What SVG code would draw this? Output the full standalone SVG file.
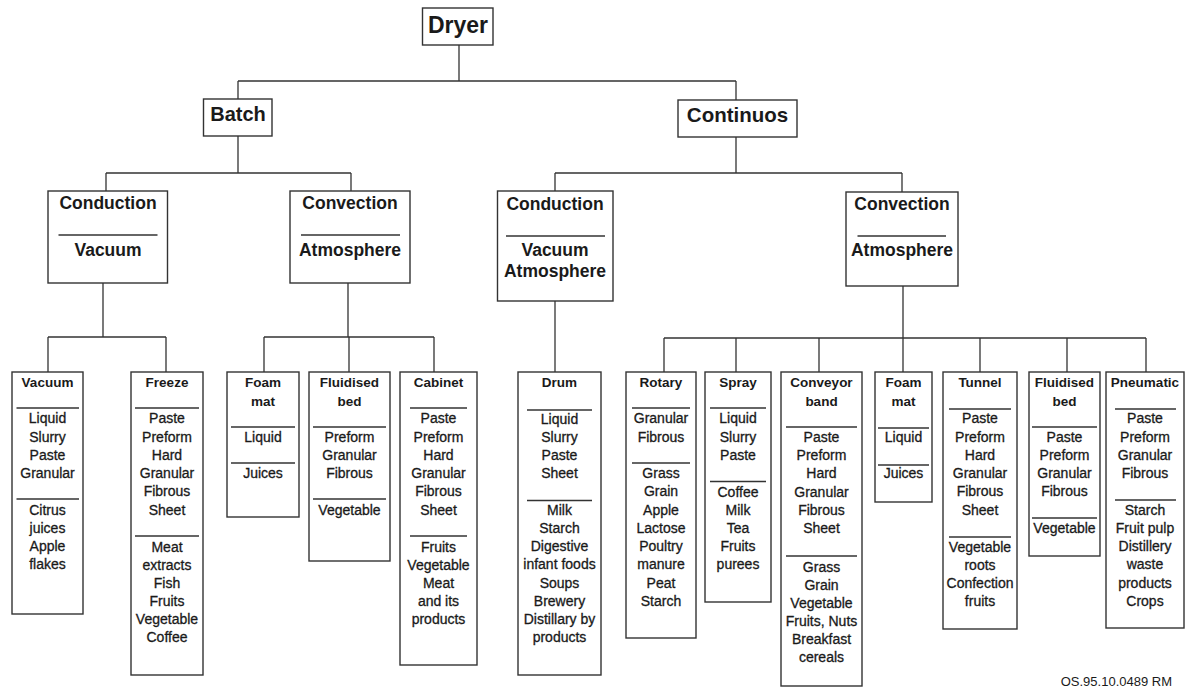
<svg xmlns="http://www.w3.org/2000/svg" width="1186" height="690" viewBox="0 0 1186 690">
<style>
rect{fill:#fff;stroke:#333;stroke-width:1.4}
.sep{stroke:#333;stroke-width:1.5;fill:none}
#connectors path{stroke:#333;stroke-width:1.3;fill:none}
text{font-family:"Liberation Sans",Arial,sans-serif;fill:#1a1a1a;text-anchor:middle}
.top{font-weight:bold;font-size:17.5px}
.t{font-weight:bold;font-size:13.5px}
.i{font-size:14px;stroke:#1a1a1a;stroke-width:0.3}
.note{font-size:13px;text-anchor:end}
</style>
<rect x="0" y="0" width="1186" height="690" style="fill:#fff;stroke:none"/>
<g id="connectors">
<path d="M459 45V81M238 81H736M238 81V99M736 81V100"/>
<path d="M238 136V173M106 173H351M106 173V191M351 173V191"/>
<path d="M736 137V173M555 173H902M555 173V191M902 173V192"/>
<path d="M103 283V337M48 337H166M48 337V372M166 337V372"/>
<path d="M348 283V337M264 337H434M264 337V372M349 337V372M434 337V372"/>
<path d="M555 301V372"/>
<path d="M903 286V338M664 338H1146M664 338V372M736 338V372M819 338V372M903 338V372M980 338V372M1067 338V372M1146 338V372"/>
</g>
<g id="dryer"><rect x="422.5" y="8" width="70.5" height="37"/><text x="458" y="33" style="font-weight:bold;font-size:23px">Dryer</text></g>
<g id="batch"><rect x="203.5" y="99" width="68.5" height="37"/><text x="238" y="121" style="font-weight:bold;font-size:20px">Batch</text></g>
<g id="continuos"><rect x="678" y="100" width="119" height="37"/><text x="737.5" y="122" style="font-weight:bold;font-size:20.5px">Continuos</text></g>
<g id="batch-conduction"><rect x="48" y="191" width="119.5" height="92"/><text class="top" x="108" y="209">Conduction</text><path class="sep" d="M58.5 235H157.5"/><text class="top" x="108" y="256">Vacuum</text></g>
<g id="batch-convection"><rect x="290" y="191" width="120" height="92"/><text class="top" x="350" y="209">Convection</text><path class="sep" d="M301 235H400"/><text class="top" x="350" y="256">Atmosphere</text></g>
<g id="cont-conduction"><rect x="497.5" y="191" width="115.5" height="110"/><text class="top" x="555" y="210">Conduction</text><path class="sep" d="M506 236H605"/><text class="top" x="555" y="256">Vacuum</text><text class="top" x="555" y="277">Atmosphere</text></g>
<g id="cont-convection"><rect x="846" y="192" width="112" height="94"/><text class="top" x="902" y="210">Convection</text><path class="sep" d="M857.5 236H946"/><text class="top" x="902" y="256">Atmosphere</text></g>

<g id="vacuum"><rect x="12" y="372" width="71" height="242"/><text class="t" x="47.5" y="387">Vacuum</text><path class="sep" d="M16.5 408H79"/>
<text class="i" x="47.5" y="423">Liquid</text><text class="i" x="47.5" y="441.5">Slurry</text><text class="i" x="47.5" y="460">Paste</text><text class="i" x="47.5" y="478">Granular</text>
<path class="sep" d="M16.5 499H79"/>
<text class="i" x="47.5" y="515">Citrus</text><text class="i" x="47.5" y="533">juices</text><text class="i" x="47.5" y="551">Apple</text><text class="i" x="47.5" y="569">flakes</text></g>

<g id="freeze"><rect x="131" y="372" width="72" height="303"/><text class="t" x="167" y="387">Freeze</text><path class="sep" d="M135 408H199"/>
<text class="i" x="167" y="423">Paste</text><text class="i" x="167" y="441.5">Preform</text><text class="i" x="167" y="460">Hard</text><text class="i" x="167" y="478">Granular</text><text class="i" x="167" y="496">Fibrous</text><text class="i" x="167" y="514.5">Sheet</text>
<path class="sep" d="M135 536H199"/>
<text class="i" x="167" y="551.5">Meat</text><text class="i" x="167" y="569.5">extracts</text><text class="i" x="167" y="588">Fish</text><text class="i" x="167" y="606">Fruits</text><text class="i" x="167" y="624">Vegetable</text><text class="i" x="167" y="642">Coffee</text></g>

<g id="foam-mat-batch"><rect x="227" y="372" width="72" height="145"/><text class="t" x="263" y="387">Foam</text><text class="t" x="263" y="405.5">mat</text><path class="sep" d="M231 427H295"/>
<text class="i" x="263" y="442">Liquid</text><path class="sep" d="M231 463H295"/><text class="i" x="263" y="478">Juices</text></g>

<g id="fluidised-bed-batch"><rect x="309" y="372" width="81" height="189"/><text class="t" x="349.5" y="387">Fluidised</text><text class="t" x="349.5" y="405.5">bed</text><path class="sep" d="M313 427H386"/>
<text class="i" x="349.5" y="442">Preform</text><text class="i" x="349.5" y="460">Granular</text><text class="i" x="349.5" y="478">Fibrous</text>
<path class="sep" d="M313 499H386"/><text class="i" x="349.5" y="515">Vegetable</text></g>

<g id="cabinet"><rect x="400" y="372" width="77" height="293"/><text class="t" x="438.5" y="387">Cabinet</text><path class="sep" d="M410 408H467"/>
<text class="i" x="438.5" y="423">Paste</text><text class="i" x="438.5" y="441.5">Preform</text><text class="i" x="438.5" y="460">Hard</text><text class="i" x="438.5" y="478">Granular</text><text class="i" x="438.5" y="496">Fibrous</text><text class="i" x="438.5" y="514.5">Sheet</text>
<path class="sep" d="M410 536H467"/>
<text class="i" x="438.5" y="551.5">Fruits</text><text class="i" x="438.5" y="569.5">Vegetable</text><text class="i" x="438.5" y="588">Meat</text><text class="i" x="438.5" y="606">and its</text><text class="i" x="438.5" y="624">products</text></g>

<g id="drum"><rect x="518" y="372" width="83" height="303"/><text class="t" x="559.5" y="387">Drum</text><path class="sep" d="M527 410H592"/>
<text class="i" x="559.5" y="424">Liquid</text><text class="i" x="559.5" y="442">Slurry</text><text class="i" x="559.5" y="460">Paste</text><text class="i" x="559.5" y="478">Sheet</text>
<path class="sep" d="M527 500.5H592"/>
<text class="i" x="559.5" y="515">Milk</text><text class="i" x="559.5" y="533">Starch</text><text class="i" x="559.5" y="551">Digestive</text><text class="i" x="559.5" y="569">infant foods</text><text class="i" x="559.5" y="587.5">Soups</text><text class="i" x="559.5" y="605.5">Brewery</text><text class="i" x="559.5" y="624">Distillary by</text><text class="i" x="559.5" y="642">products</text></g>

<g id="rotary"><rect x="626" y="372" width="70" height="266"/><text class="t" x="661" y="387">Rotary</text><path class="sep" d="M632 408H690"/>
<text class="i" x="661" y="423">Granular</text><text class="i" x="661" y="442">Fibrous</text>
<path class="sep" d="M632 463H690"/>
<text class="i" x="661" y="478">Grass</text><text class="i" x="661" y="496">Grain</text><text class="i" x="661" y="514.5">Apple</text><text class="i" x="661" y="533">Lactose</text><text class="i" x="661" y="551">Poultry</text><text class="i" x="661" y="569">manure</text><text class="i" x="661" y="587.5">Peat</text><text class="i" x="661" y="606">Starch</text></g>

<g id="spray"><rect x="705" y="372" width="66" height="230"/><text class="t" x="738" y="387">Spray</text><path class="sep" d="M710 408H766"/>
<text class="i" x="738" y="423">Liquid</text><text class="i" x="738" y="442">Slurry</text><text class="i" x="738" y="460">Paste</text>
<path class="sep" d="M710 481.5H766"/>
<text class="i" x="738" y="497">Coffee</text><text class="i" x="738" y="515">Milk</text><text class="i" x="738" y="533">Tea</text><text class="i" x="738" y="551">Fruits</text><text class="i" x="738" y="569">purees</text></g>

<g id="conveyor-band"><rect x="781" y="372" width="81" height="314"/><text class="t" x="821.5" y="387">Conveyor</text><text class="t" x="821.5" y="405.5">band</text><path class="sep" d="M786 427H857"/>
<text class="i" x="821.5" y="442">Paste</text><text class="i" x="821.5" y="460">Preform</text><text class="i" x="821.5" y="478">Hard</text><text class="i" x="821.5" y="496.5">Granular</text><text class="i" x="821.5" y="515">Fibrous</text><text class="i" x="821.5" y="533">Sheet</text>
<path class="sep" d="M786 556H857"/>
<text class="i" x="821.5" y="572">Grass</text><text class="i" x="821.5" y="590">Grain</text><text class="i" x="821.5" y="608">Vegetable</text><text class="i" x="821.5" y="626">Fruits, Nuts</text><text class="i" x="821.5" y="644">Breakfast</text><text class="i" x="821.5" y="662">cereals</text></g>

<g id="foam-mat-cont"><rect x="875" y="372" width="57" height="130"/><text class="t" x="903.5" y="387">Foam</text><text class="t" x="903.5" y="405.5">mat</text><path class="sep" d="M878 428H929"/>
<text class="i" x="903.5" y="442">Liquid</text><path class="sep" d="M878 465H929"/><text class="i" x="903.5" y="478">Juices</text></g>

<g id="tunnel"><rect x="943" y="372" width="74" height="257"/><text class="t" x="980" y="387">Tunnel</text><path class="sep" d="M949 409H1011"/>
<text class="i" x="980" y="423">Paste</text><text class="i" x="980" y="441.5">Preform</text><text class="i" x="980" y="460">Hard</text><text class="i" x="980" y="478">Granular</text><text class="i" x="980" y="496">Fibrous</text><text class="i" x="980" y="514.5">Sheet</text>
<path class="sep" d="M949 537H1011"/>
<text class="i" x="980" y="551.5">Vegetable</text><text class="i" x="980" y="569.5">roots</text><text class="i" x="980" y="588">Confection</text><text class="i" x="980" y="606">fruits</text></g>

<g id="fluidised-bed-cont"><rect x="1029" y="372" width="71" height="184"/><text class="t" x="1064.5" y="387">Fluidised</text><text class="t" x="1064.5" y="405.5">bed</text><path class="sep" d="M1032 427H1097"/>
<text class="i" x="1064.5" y="442">Paste</text><text class="i" x="1064.5" y="460">Preform</text><text class="i" x="1064.5" y="478">Granular</text><text class="i" x="1064.5" y="496">Fibrous</text>
<path class="sep" d="M1032 518H1097"/><text class="i" x="1064.5" y="533">Vegetable</text></g>

<g id="pneumatic"><rect x="1106" y="372" width="78" height="256"/><text class="t" x="1145" y="387">Pneumatic</text><path class="sep" d="M1115 409H1176"/>
<text class="i" x="1145" y="423">Paste</text><text class="i" x="1145" y="442">Preform</text><text class="i" x="1145" y="460">Granular</text><text class="i" x="1145" y="478">Fibrous</text>
<path class="sep" d="M1115 500H1176"/>
<text class="i" x="1145" y="515">Starch</text><text class="i" x="1145" y="533">Fruit pulp</text><text class="i" x="1145" y="551">Distillery</text><text class="i" x="1145" y="569">waste</text><text class="i" x="1145" y="588">products</text><text class="i" x="1145" y="606">Crops</text></g>

<text class="note" x="1172" y="686">OS.95.10.0489 RM</text>
</svg>
